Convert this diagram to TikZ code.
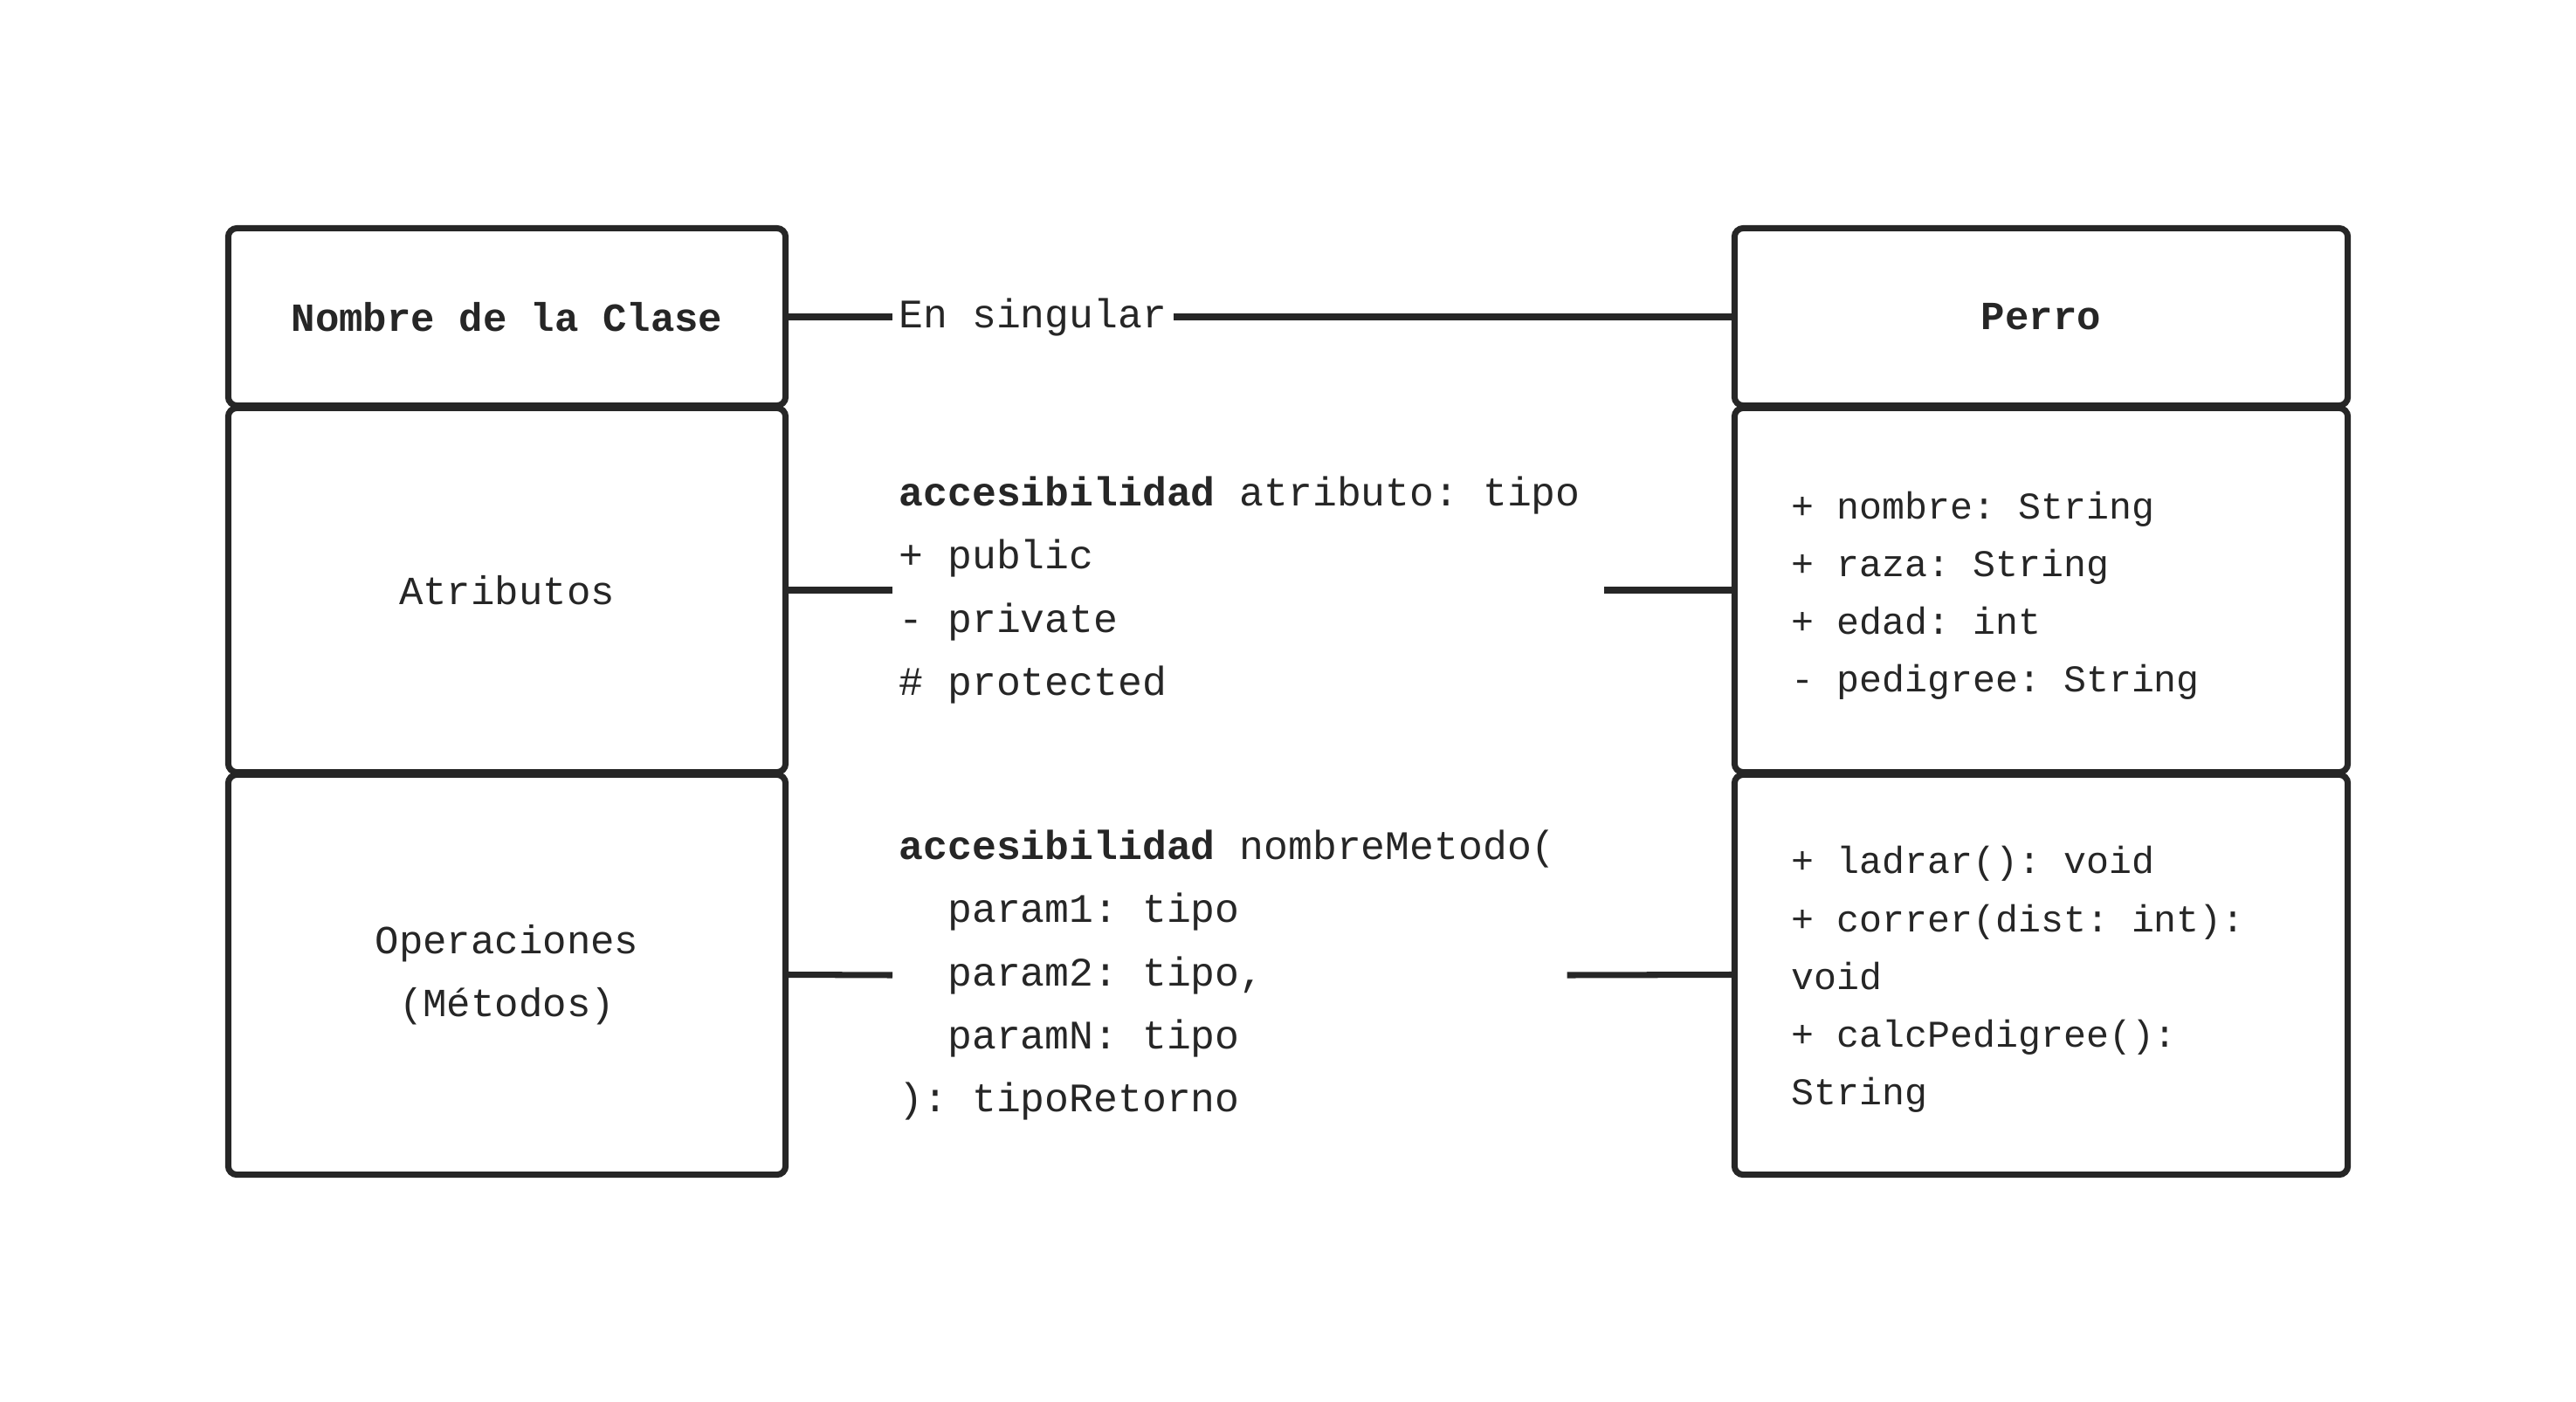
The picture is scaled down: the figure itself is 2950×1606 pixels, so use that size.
\documentclass[tikz,border=0pt]{standalone}
\usepackage{fontspec}
\setmonofont{Liberation Mono}
\usetikzlibrary{positioning}
\definecolor{tinta}{RGB}{38,38,38}

\begin{document}
\begin{tikzpicture}[x=0.01cm, y=-0.01cm,
  caja/.style={draw=tinta, line width=2pt, rounded corners=0.1cm, inner sep=0pt, text=tinta, align=center,
    font=\ttfamily\fontsize{13}{20.5}\selectfont},
  linea/.style={draw=tinta, line width=2pt},
  texto/.style={font=\ttfamily\fontsize{13.2}{20.5}\selectfont, text=tinta, align=left, inner sep=0.07cm},
  lista/.style={font=\ttfamily\fontsize{12.3}{18.8}\selectfont, text=tinta, align=left, inner sep=0pt, anchor=west}]
\useasboundingbox (0,0) rectangle (2950,1606);

%% columna izquierda: partes de la clase
\node[caja, minimum width=6.38cm, minimum height=2.03cm, font=\ttfamily\bfseries\fontsize{13}{20.5}\selectfont] (clase) at (580.5,363) {Nombre de la Clase};
\node[caja, minimum width=6.38cm, minimum height=4.17cm] (atributos) at (580.5,676) {Atributos};
\node[caja, minimum width=6.38cm, minimum height=4.58cm] (operaciones) at (580.5,1116.5) {Operaciones\\(Métodos)};

%% columna derecha: el ejemplo
\node[caja, minimum width=7.02cm, minimum height=2.03cm, font=\ttfamily\bfseries\fontsize{13}{20.5}\selectfont] (perro) at (2337.5,363) {Perro};
\node[caja, minimum width=7.02cm, minimum height=4.17cm] (perroAtr) at (2337.5,676) {};
\node[caja, minimum width=7.02cm, minimum height=4.58cm] (perroOp) at (2337.5,1116.5) {};
\node[lista] (listaAtr) at (2051,682) {+ nombre: String\\+ raza: String\\+ edad: int\\- pedigree: String};
\node[lista] (listaOp) at (2051,1122) {+ ladrar(): void\\+ correr(dist: int):\\void\\+ calcPedigree():\\String};

%% explicaciones del centro
\node[texto, anchor=west] (singular) at (1022,363) {\raisebox{-0.04cm}{En singular}};
\node[texto, anchor=west] (atrib) at (1022,676) {\textbf{accesibilidad} atributo: tipo\\+ public\\- private\\\# protected};
\node[texto, anchor=west] (metodo) at (1022,1117) {\textbf{accesibilidad} nombreMetodo(\\\phantom{xx}param1: tipo\\\phantom{xx}param2: tipo,\\\phantom{xx}paramN: tipo\\): tipoRetorno};

%% conectores
\draw[linea] (clase.east) -- (singular.west);
\draw[linea] (singular.east) -- (perro.west);
\draw[linea] (atributos.east) -- (atrib.west);
\draw[linea] (atrib.east) ++(0.2cm,0) -- (perroAtr.west);
\draw[linea] (operaciones.east) -- (metodo.west);
\draw[linea] (metodo.east) ++(0.05cm,0) -- (perroOp.west);
\end{tikzpicture}
\end{document}
